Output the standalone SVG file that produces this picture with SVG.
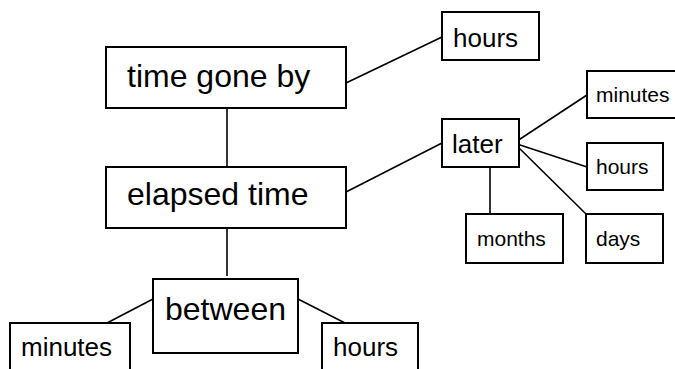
<svg xmlns="http://www.w3.org/2000/svg" width="675" height="369" viewBox="0 0 675 369">
<style>
.box{fill:#fff;stroke:#000;stroke-width:2}
.ln{stroke:#000;stroke-width:1.6;fill:none}
text{font-family:"Liberation Sans",Arial,sans-serif;fill:#000}
.l{font-size:32px}
.m{font-size:26px}
.s{font-size:21px}
</style>
<rect width="675" height="369" fill="#fff"/>
<g id="connectors">
<line class="ln" x1="227" y1="108" x2="227" y2="167"/>
<line class="ln" x1="346" y1="83" x2="442" y2="37"/>
<line class="ln" x1="346" y1="192" x2="442" y2="143"/>
<line class="ln" x1="514" y1="143" x2="587" y2="95"/>
<line class="ln" x1="514" y1="143" x2="587" y2="167"/>
<line class="ln" x1="514" y1="143" x2="586" y2="214"/>
<line class="ln" x1="490" y1="167" x2="490" y2="214"/>
<line class="ln" x1="227" y1="228" x2="227" y2="276"/>
<line class="ln" x1="153" y1="299" x2="107" y2="323"/>
<line class="ln" x1="298" y1="299" x2="345" y2="323"/>
</g>
<g id="n-timegoneby"><rect class="box" x="106" y="47" width="240" height="61"/><text class="l" x="127" y="87">time gone by</text></g>
<g id="n-hours-top"><rect class="box" x="442" y="12" width="97" height="48"/><text class="m" x="453" y="47">hours</text></g>
<g id="n-elapsed"><rect class="box" x="106" y="167" width="240" height="61"/><text class="l" x="127" y="205">elapsed time</text></g>
<g id="n-later"><rect class="box" x="442" y="119" width="77" height="48"/><text class="m" x="452" y="153">later</text></g>
<g id="n-minutes-r"><rect class="box" x="587" y="71" width="90" height="47"/><text class="s" x="596" y="102">minutes</text></g>
<g id="n-hours-r"><rect class="box" x="587" y="143" width="76" height="47"/><text class="s" x="596" y="174">hours</text></g>
<g id="n-months"><rect class="box" x="466" y="214" width="97" height="49"/><text class="s" x="477" y="246">months</text></g>
<g id="n-days"><rect class="box" x="586" y="214" width="77" height="49"/><text class="s" x="596" y="246">days</text></g>
<g id="n-between"><rect class="box" x="153" y="279" width="145" height="74"/><text class="l" x="165" y="320">between</text></g>
<g id="n-minutes-b"><rect class="box" x="10" y="323" width="120" height="60"/><text class="m" x="21" y="356">minutes</text></g>
<g id="n-hours-b"><rect class="box" x="322" y="323" width="96" height="60"/><text class="m" x="333" y="356">hours</text></g>
</svg>
